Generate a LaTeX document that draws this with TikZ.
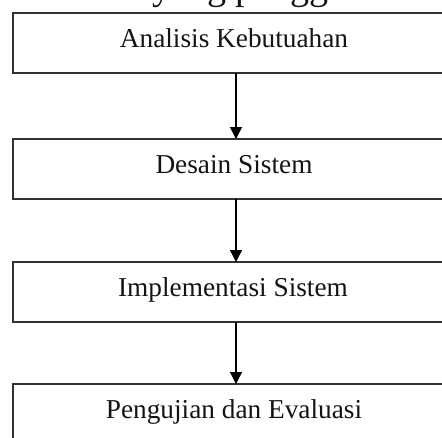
\documentclass[tikz,border=0pt]{standalone}
\usepackage{fontspec}
\setmainfont{Liberation Serif}
\usetikzlibrary{decorations.pathmorphing,arrows.meta}
\definecolor{boxc}{RGB}{50,50,50}
\definecolor{txtc}{RGB}{20,20,20}
\definecolor{wavec}{RGB}{230,20,20}
\newcommand\lblfont{\fontsize{27.3}{32}\selectfont}
\newlength\lenA \newlength\lenB \newlength\lenC \newlength\lenD \newlength\lenE \newlength\lenF
\begin{document}
\begin{tikzpicture}[
  box/.style={draw=boxc, line width=1.5pt, minimum width=446pt, minimum height=60pt, inner sep=0pt, outer sep=0pt, anchor=north west},
  lbl/.style={font=\lblfont, text=txtc, inner sep=0pt, anchor=base},
  arr/.style={-{Triangle[width=12pt,length=12pt]}, line width=1.3pt, black},
  wave/.style={wavec, line width=0.8pt, decorate, decoration={snake, amplitude=1pt, segment length=4pt}}]
\useasboundingbox (0pt,0pt) rectangle (442pt,-437pt);
\settowidth{\lenA}{\lblfont Analisis}
\settowidth{\lenB}{\lblfont Kebutuahan}
\settowidth{\lenC}{\lblfont Sistem}
\settowidth{\lenD}{\lblfont Implementasi}
\settowidth{\lenE}{\lblfont Pengujian}
\settowidth{\lenF}{\lblfont Evaluasi}
\node[box] (b1) at (13pt,-13pt) {};
\node[box] (b2) at (13pt,-139pt) {};
\node[box] (b3) at (13pt,-262pt) {};
\node[box] (b4) at (13pt,-384pt) {};
\draw[arr] (b1.south) -- (b2.north);
\draw[arr] (b2.south) -- (b3.north);
\draw[arr] (b3.south) -- (b4.north);
\node[lbl] (t1) at (234pt,-47pt) {Analisis Kebutuahan};
\node[lbl] (t2) at (234pt,-173pt) {Desain Sistem};
\node[lbl] (t3) at (233pt,-296pt) {Implementasi Sistem};
\node[lbl] (t4) at (234pt,-418pt) {Pengujian dan Evaluasi};
\draw[wave] ([yshift=-3pt]t1.base west) -- ++(\lenA,0pt);
\draw[wave] ([yshift=-3pt]t1.base east) -- ++(-\lenB,0pt);
\draw[wave] ([yshift=-3pt]t2.base east) -- ++(-\lenC,0pt);
\draw[wave] ([yshift=-3pt]t3.base west) -- ++(\lenD,0pt);
\draw[wave] ([yshift=-3pt]t3.base east) -- ++(-\lenC,0pt);
\draw[wave] ([yshift=-3pt]t4.base west) -- ++(\lenE,0pt);
\draw[wave] ([yshift=-3pt]t4.base east) -- ++(-\lenF,0pt);
\node[font=\fontsize{38}{40}\selectfont, inner sep=0pt, anchor=base west, text=txtc] (top) at (152pt,0.5pt) {yang pengg};
\end{tikzpicture}
\end{document}
